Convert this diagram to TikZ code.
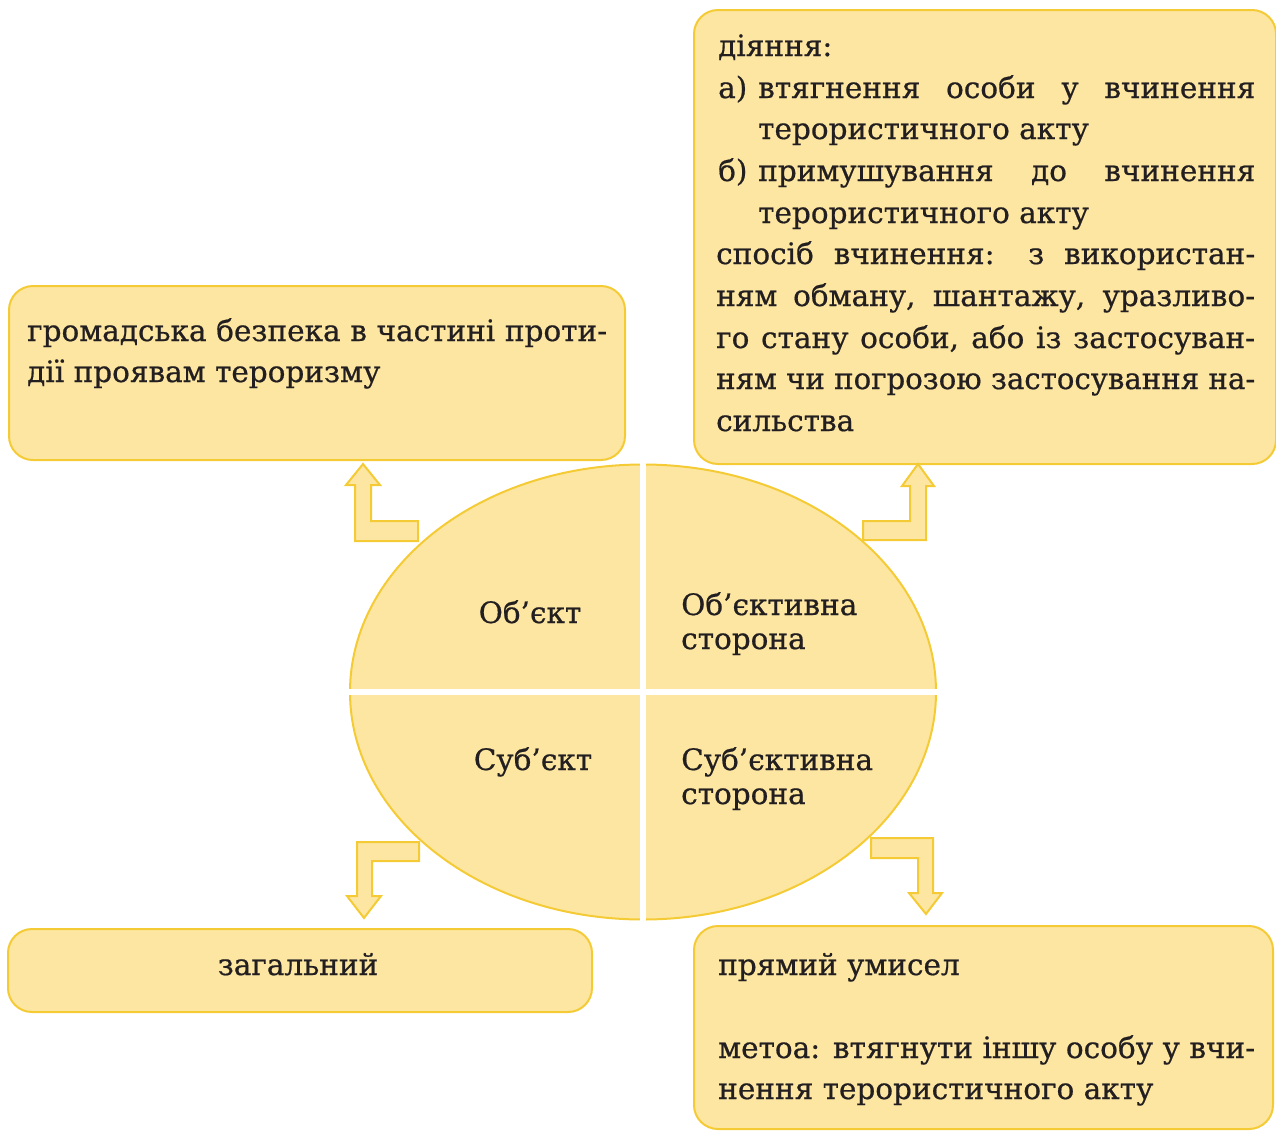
\documentclass[tikz,border=0pt]{standalone}
\usepackage{fontspec}
\usepackage{graphicx}
\usetikzlibrary{shapes.geometric,calc}
\setmainfont{DejaVu Serif}[FakeBold=0.6]
\definecolor{boxfill}{HTML}{FCE6A2}
\definecolor{boxline}{HTML}{F5CB35}
\definecolor{ink}{HTML}{231F20}
\newlength\jlw
\newcommand\jl[2]{\settowidth\jlw{#2}\ifdim\jlw>#1\relax\resizebox{#1}{\height}{#2}\else\makebox[#1][s]{#2}\fi}
\tikzset{
  box/.style={draw=boxline, fill=boxfill, line width=2pt, rounded corners=24pt, anchor=north west, inner sep=0pt},
  txt/.style={anchor=base west, inner sep=0pt, text=ink, font=\fontsize{29.5}{35}\selectfont},
  ctxt/.style={txt, anchor=base},
  barrow/.style={draw=boxline, fill=boxfill, line width=2pt, line join=miter}
}
\begin{document}
\begin{tikzpicture}[x=1pt,y=-1pt]
\useasboundingbox (0,0) rectangle (1276,1130);
% boxes
\node[box, minimum width=616pt, minimum height=174pt] (objbox) at (8,285) {};
\node[box, minimum width=582pt, minimum height=454pt] (objsbox) at (693,9) {};
\node[box, minimum width=584pt, minimum height=83pt] (subbox) at (7,928) {};
\node[box, minimum width=579pt, minimum height=203pt] (subsbox) at (693,925) {};
% ellipse
\node[draw=boxline, fill=boxfill, line width=2pt, ellipse, minimum width=586pt, minimum height=455pt, inner sep=0pt] (ell) at (643,692) {};
\draw[white, line width=6pt] ($(ell.north)+(0,-4)$) -- ($(ell.south)+(0,4)$);
\draw[white, line width=6pt] ($(ell.west)+(-4,0)$) -- ($(ell.east)+(4,0)$);
% ellipse labels
\node[ctxt] (q1) at (530,623) {Об’єкт};
\node[txt] (q2a) at (681,615) {Об’єктивна};
\node[txt] (q2b) at (681,649) {сторона};
\node[ctxt] (q3) at (533,770) {Суб’єкт};
\node[txt] (q4a) at (681,770) {Суб’єктивна};
\node[txt] (q4b) at (681,804) {сторона};
% bent arrows
\draw[barrow] (418,521) -- (371,521) -- (371,485) -- (380,485) -- (363,464) -- (346,485) -- (355,485) -- (355,541) -- (418,541) -- cycle;
\draw[barrow] (863,521) -- (910,521) -- (910,486) -- (902,486) -- (918,464) -- (934,486) -- (926,486) -- (926,540) -- (863,540) -- cycle;
\draw[barrow] (419,842) -- (357,842) -- (357,896) -- (347,896) -- (364,918) -- (381,896) -- (372,896) -- (372,861) -- (419,861) -- cycle;
\draw[barrow] (871,838) -- (933,838) -- (933,893) -- (942,893) -- (926,914) -- (909,893) -- (918,893) -- (918,858) -- (871,858) -- cycle;
% top-left text
\node[txt] (t1) at (27,341) {\jl{580pt}{громадська безпека в частині проти-}};
\node[txt] (t2) at (27,382) {дії проявам тероризму};
% top-right text
\node[txt] (r0) at (718,56) {діяння:};
\node[txt] (r1a) at (718,98) {а)};
\node[txt] (r1b) at (758,98) {\jl{497pt}{втягнення особи у вчинення}};
\node[txt] (r2) at (758,139) {терористичного акту};
\node[txt] (r3a) at (718,181) {б)};
\node[txt] (r3b) at (758,181) {\jl{497pt}{примушування до вчинення}};
\node[txt] (r4) at (758,223) {терористичного акту};
\node[txt] (r5) at (716,264) {\jl{539pt}{спосіб вчинення: з використан-}};
\node[txt] (r6) at (716,306) {\jl{539pt}{ням обману, шантажу, уразливо-}};
\node[txt] (r7) at (716,348) {\jl{539pt}{го стану особи, або із застосуван-}};
\node[txt] (r8) at (716,389) {\jl{539pt}{ням чи погрозою застосування на-}};
\node[txt] (r9) at (716,431) {сильства};
% bottom texts
\node[ctxt] (b1) at (298,975) {загальний};
\node[txt] (b2) at (718,975) {прямий умисел};
\node[txt] (b3) at (718,1058) {\jl{537pt}{метоа: втягнути іншу особу у вчи-}};
\node[txt] (b4) at (718,1099) {нення терористичного акту};
\end{tikzpicture}
\end{document}
